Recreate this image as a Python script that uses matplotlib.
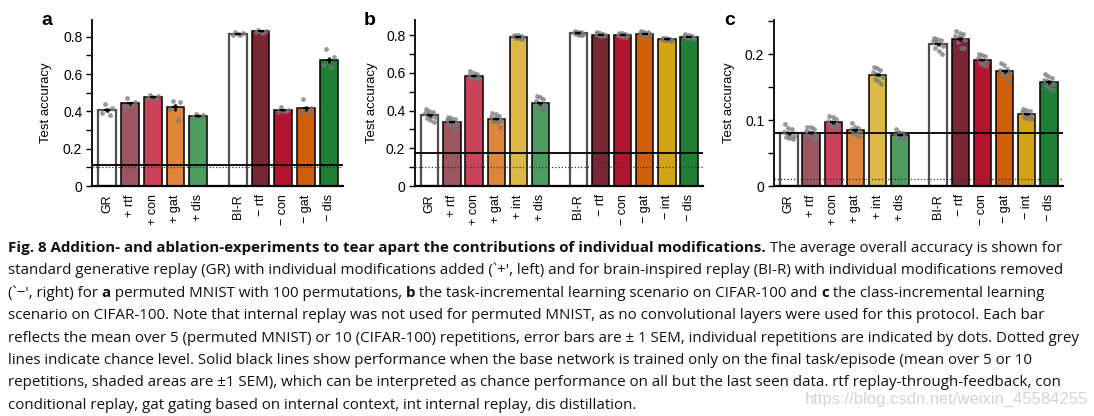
import numpy as np
import matplotlib
matplotlib.use('Agg')
import matplotlib.pyplot as plt
from matplotlib.ticker import MultipleLocator, FuncFormatter

plt.rcParams['font.family'] = ['Liberation Sans', 'DejaVu Sans']

# ---- data ----
labels_a = ['GR', '+ rtf', '+ con', '+ gat', '+ dis',
            'BI-R', '\u2212 rtf', '\u2212 con', '\u2212 gat', '\u2212 dis']
labels_bc = ['GR', '+ rtf', '+ con', '+ gat', '+ int', '+ dis',
             'BI-R', '\u2212 rtf', '\u2212 con', '\u2212 gat', '\u2212 int', '\u2212 dis']

# individual repetitions, permuted MNIST (5 reps)
reps_a = [
    [0.44, 0.42, 0.41, 0.39, 0.38],
    [0.47, 0.45, 0.44, 0.43, 0.43],
    [0.49, 0.485, 0.475, 0.47, 0.465],
    [0.455, 0.45, 0.43, 0.415, 0.355],
    [0.385, 0.38, 0.375, 0.37, 0.365],
    [0.825, 0.82, 0.815, 0.81, 0.81],
    [0.835, 0.832, 0.828, 0.825, 0.822],
    [0.425, 0.405, 0.40, 0.395, 0.40],
    [0.465, 0.42, 0.41, 0.395, 0.39],
    [0.735, 0.69, 0.665, 0.65, 0.64],
]
# task-incremental CIFAR-100 (10 reps)
reps_b = [
    [0.41, 0.40, 0.39, 0.385, 0.38, 0.37, 0.365, 0.36, 0.35, 0.34],
    [0.365, 0.36, 0.355, 0.35, 0.345, 0.34, 0.335, 0.33, 0.32, 0.30],
    [0.61, 0.60, 0.595, 0.59, 0.585, 0.58, 0.575, 0.575, 0.57, 0.565],
    [0.385, 0.38, 0.37, 0.365, 0.36, 0.355, 0.35, 0.345, 0.34, 0.315],
    [0.80, 0.798, 0.795, 0.793, 0.79, 0.79, 0.788, 0.785, 0.783, 0.78],
    [0.475, 0.47, 0.46, 0.45, 0.44, 0.435, 0.43, 0.42, 0.41, 0.40],
    [0.82, 0.818, 0.815, 0.812, 0.81, 0.81, 0.808, 0.805, 0.803, 0.80],
    [0.815, 0.81, 0.808, 0.805, 0.803, 0.80, 0.80, 0.798, 0.795, 0.795],
    [0.812, 0.81, 0.805, 0.802, 0.80, 0.80, 0.798, 0.795, 0.792, 0.79],
    [0.82, 0.818, 0.815, 0.812, 0.81, 0.808, 0.805, 0.80, 0.798, 0.795],
    [0.785, 0.783, 0.781, 0.78, 0.778, 0.778, 0.776, 0.775, 0.773, 0.771],
    [0.805, 0.80, 0.797, 0.793, 0.79, 0.79, 0.787, 0.785, 0.783, 0.78],
]
# class-incremental CIFAR-100 (10 reps)
reps_c = [
    [0.094, 0.088, 0.086, 0.082, 0.08, 0.078, 0.076, 0.075, 0.073, 0.071],
    [0.09, 0.089, 0.086, 0.084, 0.082, 0.08, 0.078, 0.075, 0.073, 0.072],
    [0.107, 0.104, 0.101, 0.099, 0.097, 0.095, 0.093, 0.091, 0.09, 0.088],
    [0.096, 0.09, 0.088, 0.086, 0.084, 0.083, 0.082, 0.08, 0.078, 0.076],
    [0.181, 0.179, 0.176, 0.173, 0.17, 0.168, 0.166, 0.163, 0.16, 0.155],
    [0.087, 0.082, 0.08, 0.078, 0.077, 0.076, 0.075, 0.074, 0.073, 0.072],
    [0.224, 0.223, 0.222, 0.22, 0.218, 0.215, 0.212, 0.21, 0.205, 0.20],
    [0.235, 0.232, 0.23, 0.228, 0.226, 0.224, 0.221, 0.218, 0.21, 0.21],
    [0.20, 0.199, 0.197, 0.194, 0.192, 0.19, 0.188, 0.186, 0.184, 0.182],
    [0.186, 0.184, 0.178, 0.176, 0.174, 0.173, 0.172, 0.17, 0.167, 0.16],
    [0.117, 0.116, 0.114, 0.112, 0.11, 0.108, 0.107, 0.105, 0.103, 0.101],
    [0.17, 0.167, 0.164, 0.161, 0.159, 0.157, 0.155, 0.152, 0.149, 0.145],
]

# final-task-only baseline (mean, sem) and chance level
base_a, base_sem_a, chance_a = 0.111, 0.002, 0.1
base_b, base_sem_b, chance_b = 0.176, 0.003, 0.1
base_c, base_sem_c, chance_c = 0.081, 0.0008, 0.01

# ---- styling ----
add_colors = {'rtf': '#9c5661', 'con': '#c9445b', 'gat': '#e0863c',
              'int': '#dcb846', 'dis': '#4e9c60'}
abl_colors = {'rtf': '#7a2534', 'con': '#b3152f', 'gat': '#d05f09',
              'int': '#d3a417', 'dis': '#1e7f35'}


def bar_color(lab):
    key = lab.split()[-1]
    if lab.startswith('+'):
        return add_colors[key]
    if lab.startswith('\u2212'):
        return abl_colors[key]
    return 'white'


def fmt(v, p):
    return '0' if abs(v) < 1e-9 else '%g' % v


def panel(ax, labels, reps, base, base_sem, chance, ytop, major, minor, gap):
    n = len(labels) // 2
    pos = list(range(n)) + [n - 1 + gap + i for i in range(n)]
    pos = np.array(pos, dtype=float)
    means = np.array([np.mean(r) for r in reps])
    sems = np.array([np.std(r, ddof=1) / np.sqrt(len(r)) for r in reps])
    colors = [bar_color(l) for l in labels]
    edges = ['#505050' if c == 'white' else 'black' for c in colors]
    lws = [1.6 if c == 'white' else 1.1 for c in colors]

    ax.bar(pos, means, width=0.78, color=colors, edgecolor=edges,
           linewidth=lws, zorder=2)
    for x, r in zip(pos, reps):
        k = len(r)
        offs = np.linspace(-0.22, 0.22, k)
        order = [(3 * i + 1) % k for i in range(k)]
        ax.scatter(x + offs[order], r, s=12, color='#777777', alpha=0.75,
                   linewidths=0, zorder=4)
    ax.errorbar(pos, means, yerr=sems, fmt='none', ecolor='black',
                elinewidth=1.8, capsize=0, zorder=5)
    ax.plot(pos, means, '_', ms=5, mew=1.5, color='black', zorder=5)

    ax.axhspan(base - base_sem, base + base_sem, color='#b0b0b0',
               alpha=0.5, lw=0, zorder=1)
    ax.axhline(base, color='black', lw=1.3, zorder=3)
    ax.axhline(chance, color='#333333', lw=0.9, ls=(0, (1, 1.6)), zorder=3)

    ax.set_xlim(-0.67, pos[-1] + 0.63)
    ax.set_ylim(0, ytop)
    ax.set_xticks(pos)
    ax.set_xticklabels(labels, rotation=90, fontsize=9)
    ax.tick_params(axis='x', length=0, pad=6)
    ax.yaxis.set_major_locator(MultipleLocator(major))
    ax.yaxis.set_minor_locator(MultipleLocator(minor))
    ax.yaxis.set_major_formatter(FuncFormatter(fmt))
    ax.tick_params(axis='y', which='both', length=4, width=1,
                   labelsize=10, pad=3)
    for s in ['top', 'right']:
        ax.spines[s].set_visible(False)
    ax.spines['left'].set_linewidth(1.3)
    ax.spines['bottom'].set_linewidth(1.6)
    ax.set_ylabel('Test accuracy', fontsize=9.5)


W, H = 1094, 416
fig = plt.figure(figsize=(W / 100, H / 100), dpi=100)


def px_axes(x0, x1, y0, y1):
    return fig.add_axes([x0 / W, 1 - y1 / H, (x1 - x0) / W, (y1 - y0) / H])


ax_a = px_axes(92, 343, 20, 186)
ax_b = px_axes(415, 703, 20, 186)
ax_c = px_axes(774, 1063, 20, 186)

panel(ax_a, labels_a, reps_a, base_a, base_sem_a, chance_a, 0.89, 0.2, 0.1, 1.75)
panel(ax_b, labels_bc, reps_b, base_b, base_sem_b, chance_b, 0.88, 0.2, 0.1, 1.72)
panel(ax_c, labels_bc, reps_c, base_c, base_sem_c, chance_c, 0.252, 0.1, 0.05, 1.72)

ax_a.yaxis.set_label_coords(-0.159, 0.5)
ax_b.yaxis.set_label_coords(-0.128, 0.5)
ax_c.yaxis.set_label_coords(-0.135, 0.5)

for lab, x in [('a', 41), ('b', 364), ('c', 724)]:
    fig.text(x / W, 1 - 25 / H, lab, fontsize=14, fontweight='bold',
             va='baseline', ha='left')

# ---- caption ----
B, N = 'bold', 'normal'
caption = [
    [('Fig. 8 Addition- and ablation-experiments to tear apart the contributions of individual modifications.', B),
     (' The average overall accuracy is shown for', N)],
    [("standard generative replay (GR) with individual modifications added (`+', left) and for brain-inspired replay (BI-R) with individual modifications removed", N)],
    [("(`\u2212', right) for ", N), ('a', B), (' permuted MNIST with 100 permutations, ', N), ('b', B),
     (' the task-incremental learning scenario on CIFAR-100 and ', N), ('c', B),
     (' the class-incremental learning', N)],
    [('scenario on CIFAR-100. Note that internal replay was not used for permuted MNIST, as no convolutional layers were used for this protocol. Each bar', N)],
    [('reflects the mean over 5 (permuted MNIST) or 10 (CIFAR-100) repetitions, error bars are \u00b1 1 SEM, individual repetitions are indicated by dots. Dotted grey', N)],
    [('lines indicate chance level. Solid black lines show performance when the base network is trained only on the final task/episode (mean over 5 or 10', N)],
    [('repetitions, shaded areas are \u00b11 SEM), which can be interpreted as chance performance on all but the last seen data. rtf replay-through-feedback, con', N)],
    [('conditional replay, gat gating based on internal context, int internal replay, dis distillation.', N)],
]

cap_font = ['Open Sans', 'DejaVu Sans']
renderer = fig.canvas.get_renderer()


def text_w(s, weight, size):
    t = fig.text(0, 0, 'x' + s + 'x', fontsize=size, fontweight=weight, family=cap_font)
    t2 = fig.text(0, 0, 'xx', fontsize=size, fontweight=weight, family=cap_font)
    w = t.get_window_extent(renderer).width - t2.get_window_extent(renderer).width
    t.remove()
    t2.remove()
    return w


def line_w(line, size):
    return sum(text_w(s, wt, size) for s, wt in line)


# size the caption so that its widest line fits the page width used in the figure
cap_size = 10.0
widest = max(line_w(l, cap_size) for l in caption)
cap_size *= 1078.0 / widest

for i, line in enumerate(caption):
    x = 8.0
    y = 252 + 22.4 * i
    for s, weight in line:
        fig.text(x / W, 1 - y / H, s, fontsize=cap_size, fontweight=weight,
                 family=cap_font, va='baseline', ha='left', color='#111111')
        x += text_w(s, weight, cap_size)

fig.text(1088 / W, 1 - 404 / H, 'https://blog.csdn.net/weixin_45584255',
         fontsize=12, color='#d4d4d4', ha='right', va='baseline')

fig.savefig('out.png', dpi=100)
